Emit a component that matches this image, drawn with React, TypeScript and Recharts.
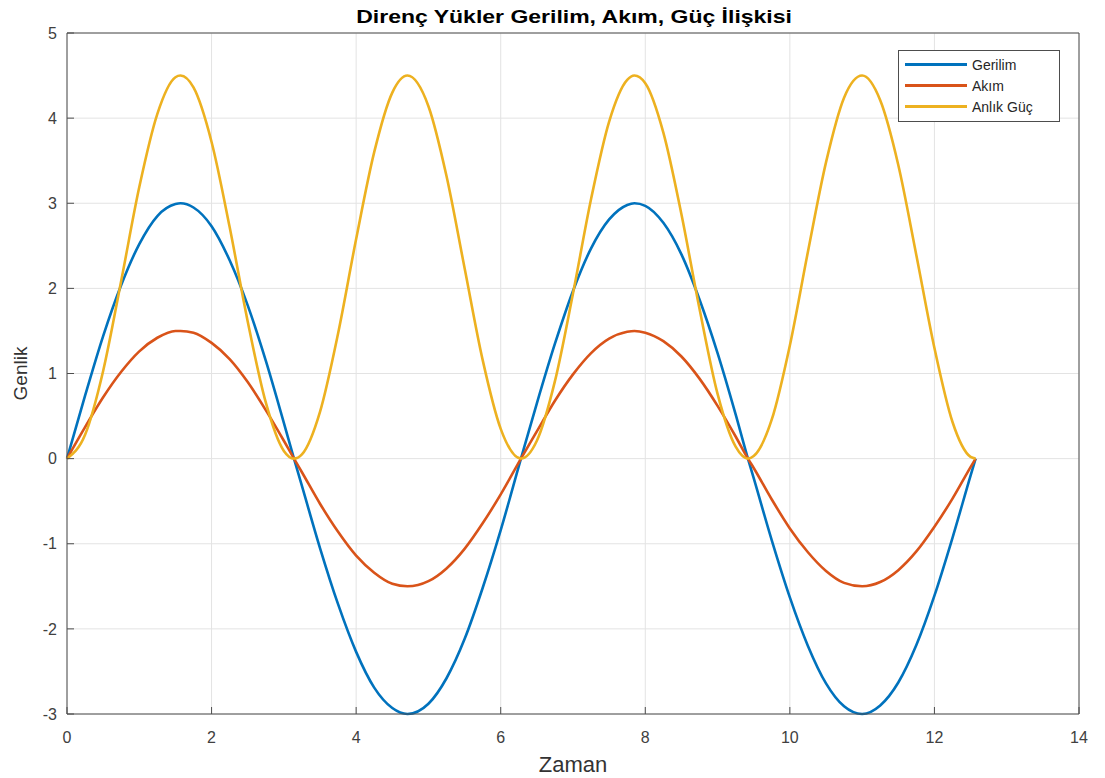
import { LineChart, Line, XAxis, YAxis, CartesianGrid } from "recharts";

const time = [
  0, 0.25, 0.5, 0.75, 1, 1.25, 1.5, 1.57, 1.75, 2, 2.25, 2.5, 2.75, 3, 3.14, 3.25, 3.5, 3.75, 4, 4.25, 4.5, 4.71, 5,
  5.25, 5.5, 5.75, 6, 6.28, 6.5, 6.75, 7, 7.25, 7.5, 7.75, 7.85, 8, 8.25, 8.5, 8.75, 9, 9.25, 9.42, 9.5, 9.75, 10,
  10.25, 10.5, 10.75, 11, 11.25, 11.5, 11.75, 12, 12.25, 12.5, 12.57,
];
const gerilim = [
  0, 0.74, 1.44, 2.04, 2.52, 2.85, 2.99, 3, 2.95, 2.73, 2.33, 1.8, 1.15, 0.42, 0, -0.32, -1.05, -1.71, -2.27, -2.69,
  -2.93, -3, -2.88, -2.58, -2.12, -1.52, -0.84, 0, 0.65, 1.35, 1.97, 2.47, 2.81, 2.98, 3, 2.97, 2.77, 2.4, 1.87, 1.24,
  0.52, 0, -0.23, -0.96, -1.63, -2.2, -2.64, -2.91, -3, -2.9, -2.63, -2.19, -1.61, -0.93, -0.2, 0,
];
const akim = [
  0, 0.37, 0.72, 1.02, 1.26, 1.42, 1.5, 1.5, 1.48, 1.36, 1.17, 0.9, 0.57, 0.21, 0, -0.16, -0.53, -0.86, -1.14, -1.34,
  -1.47, -1.5, -1.44, -1.29, -1.06, -0.76, -0.42, 0, 0.32, 0.68, 0.99, 1.24, 1.41, 1.49, 1.5, 1.48, 1.38, 1.2, 0.94,
  0.62, 0.26, 0, -0.11, -0.48, -0.82, -1.1, -1.32, -1.46, -1.5, -1.45, -1.31, -1.09, -0.8, -0.47, -0.1, 0,
];
const guc = [
  0, 0.28, 1.03, 2.09, 3.19, 4.05, 4.48, 4.5, 4.36, 3.72, 2.72, 1.61, 0.66, 0.09, 0, 0.05, 0.55, 1.47, 2.58, 3.6, 4.3,
  4.5, 4.14, 3.32, 2.24, 1.16, 0.35, 0, 0.21, 0.91, 1.94, 3.05, 3.96, 4.45, 4.5, 4.41, 3.83, 2.87, 1.76, 0.76, 0.14,
  0, 0.03, 0.46, 1.33, 2.43, 3.48, 4.24, 4.5, 4.21, 3.45, 2.39, 1.3, 0.43, 0.02, 0,
];

const xTicks = [0, 2, 4, 6, 8, 10, 12, 14];
const yTicks = [-3, -2, -1, 0, 1, 2, 3, 4, 5];

const series = [
  { key: "gerilim", name: "Gerilim", color: "#0072BD" },
  { key: "akim", name: "Akım", color: "#D95319" },
  { key: "guc", name: "Anlık Güç", color: "#EDB120" },
];

const data = time.map((t, i) => ({ t, gerilim: gerilim[i], akim: akim[i], guc: guc[i] }));

const FONT = "'Liberation Sans', Arial, sans-serif";
const AXIS = "#4d4d4d";

function LegendBox() {
  return (
    <div
      style={{
        position: "absolute",
        left: 898,
        top: 50,
        width: 162,
        boxSizing: "border-box",
        background: "#fff",
        border: "1px solid #4d4d4d",
        padding: "3px 6px 4px 6px",
        fontFamily: FONT,
        fontSize: 14,
        color: "#262626",
      }}
    >
      {series.map((s) => (
        <div key={s.key} style={{ display: "flex", alignItems: "center", height: 21 }}>
          <div style={{ width: 62, height: 3, background: s.color, marginRight: 5 }} />
          <span>{s.name}</span>
        </div>
      ))}
    </div>
  );
}

export default function App() {
  return (
    <div style={{ position: "absolute", left: 0, top: 0, width: 1105, height: 778, background: "#fff" }}>
      <div style={{ position: "absolute", top: 6, left: 0, width: 1148, textAlign: "center" }}>
        <span
          style={{
            display: "inline-block",
            transform: "scaleX(1.21)",
            fontFamily: FONT,
            fontWeight: "bold",
            fontSize: 19,
            color: "#000",
          }}
        >
          Direnç Yükler Gerilim, Akım, Güç İlişkisi
        </span>
      </div>
      <LineChart width={1105} height={778} data={data} margin={{ top: 32, right: 25, bottom: 0, left: 0 }}>
        <CartesianGrid stroke="#e3e3e3" horizontalValues={yTicks} verticalValues={xTicks} xAxisId="b" yAxisId="l" />
        <XAxis
          xAxisId="b"
          dataKey="t"
          type="number"
          domain={[0, 14]}
          ticks={xTicks}
          height={64}
          stroke={AXIS}
          tickSize={-7}
          tickMargin={25}
          tick={{ fill: "#404040", fontSize: 16, fontFamily: FONT }}
          label={{ value: "Zaman", position: "insideBottom", offset: 6, fill: "#333", fontSize: 22, fontFamily: FONT }}
        />
        <XAxis
          xAxisId="t"
          orientation="top"
          dataKey="t"
          type="number"
          domain={[0, 14]}
          ticks={xTicks}
          height={1}
          stroke={AXIS}
          tickSize={-7}
          tick={false}
        />
        <YAxis
          yAxisId="l"
          type="number"
          domain={[-3, 5]}
          ticks={yTicks}
          width={67}
          stroke={AXIS}
          tickSize={-7}
          tickMargin={17}
          tick={{ fill: "#404040", fontSize: 16, fontFamily: FONT }}
          label={{
            value: "Genlik",
            angle: -90,
            position: "insideLeft",
            offset: 20,
            fill: "#333",
            fontSize: 19,
            fontFamily: FONT,
            style: { textAnchor: "middle" },
          }}
        />
        <YAxis
          yAxisId="r"
          orientation="right"
          type="number"
          domain={[-3, 5]}
          ticks={yTicks}
          width={1}
          stroke={AXIS}
          tickSize={-7}
          tick={false}
        />
        {series.map((s) => (
          <Line
            key={s.key}
            xAxisId="b"
            yAxisId="l"
            type="monotone"
            dataKey={s.key}
            name={s.name}
            stroke={s.color}
            strokeWidth={2.6}
            dot={false}
            isAnimationActive={false}
          />
        ))}
      </LineChart>
      <LegendBox />
    </div>
  );
}
